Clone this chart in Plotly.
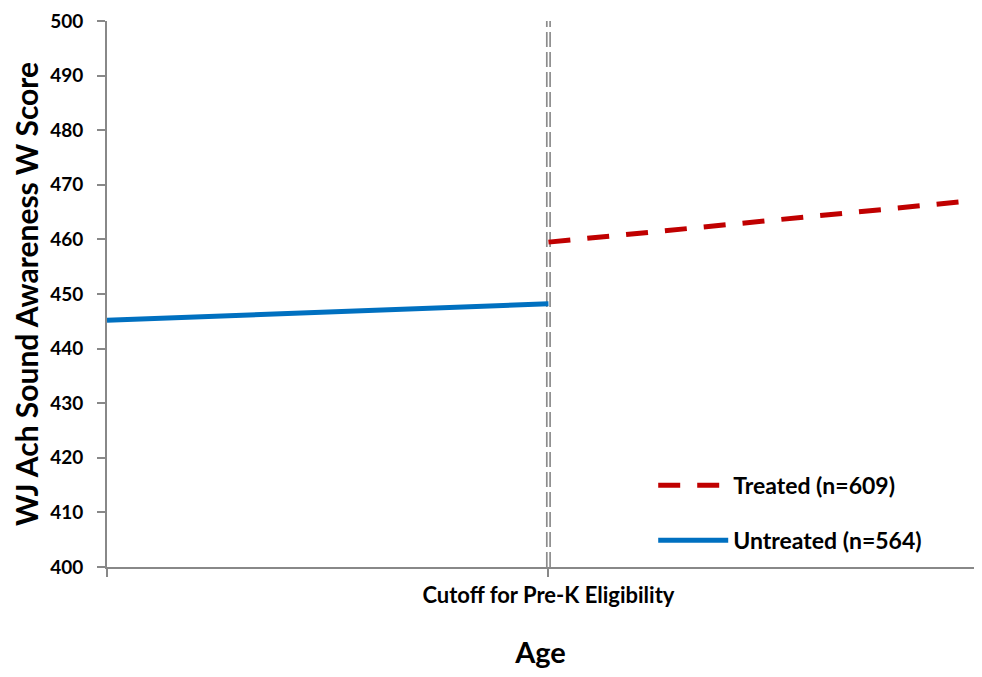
import plotly.graph_objects as go

# Datos (edad centrada en el corte = 0)
untreated_x = [-1, 0]
untreated_y = [445.2, 448.2]
treated_x = [0, 1]
treated_y = [459.5, 467.4]

y_ticks = [400, 410, 420, 430, 440, 450, 460, 470, 480, 490, 500]
x_ticks = [-1, 0, 1]
x_ticktext = ['', 'Cutoff for Pre-K Eligibility', '']
cutoff = 0

font = 'Lato'
grey = '#888888'

fig = go.Figure()

# Línea de corte doble (gris con blanco encima)
fig.add_shape(type='line', x0=cutoff, x1=cutoff, y0=400, y1=500, xref='x', yref='y',
              line=dict(color='#8c8c8c', width=5, dash='15px,5px'), layer='below')
fig.add_shape(type='line', x0=cutoff, x1=cutoff, y0=400, y1=500, xref='x', yref='y',
              line=dict(color='white', width=1.6, dash='15px,5px'), layer='below')

fig.add_trace(go.Scatter(
    x=treated_x, y=treated_y, mode='lines', name='Treated (n=609)', legendgroup='t',
    line=dict(color='#c00000', width=5, dash='22px,17px')
))
fig.add_trace(go.Scatter(
    x=untreated_x, y=untreated_y, mode='lines', name='Untreated (n=564)', legendgroup='u',
    line=dict(color='#0070c0', width=5)
))

fig.update_layout(
    width=966, height=661,
    template='plotly_white',
    plot_bgcolor='white', paper_bgcolor='white',
    margin=dict(l=99, r=0, t=13, b=97),
    font=dict(family=font, color='black'),
    showlegend=True,
    legend=dict(x=0.63, y=0.189, xanchor='left', yanchor='top',
                font=dict(size=23, family=font, color='black', weight='bold'),
                itemwidth=70, tracegroupgap=22, bgcolor='rgba(0,0,0,0)'),
    xaxis=dict(range=[-1, 0.964], tickvals=x_ticks, ticktext=x_ticktext,
               showgrid=False, zeroline=False, showline=True, linecolor=grey, linewidth=2,
               ticks='outside', ticklen=8, tickcolor=grey, tickwidth=2,
               tickfont=dict(size=22, family=font, weight='bold'),
               title=dict(text='Age', font=dict(size=29, family=font, weight='bold'), standoff=40)),
    yaxis=dict(range=[400, 500], tickvals=y_ticks,
               showgrid=False, zeroline=False, showline=True, linecolor=grey, linewidth=2,
               ticks='outside', ticklen=8, tickcolor=grey, tickwidth=2, ticklabelstandoff=10,
               tickfont=dict(size=19, family=font, weight='bold'),
               title=dict(text='WJ Ach Sound Awareness W Score',
                          font=dict(size=30, family=font, weight='bold'), standoff=11)),
)

fig.write_html('out.html')
